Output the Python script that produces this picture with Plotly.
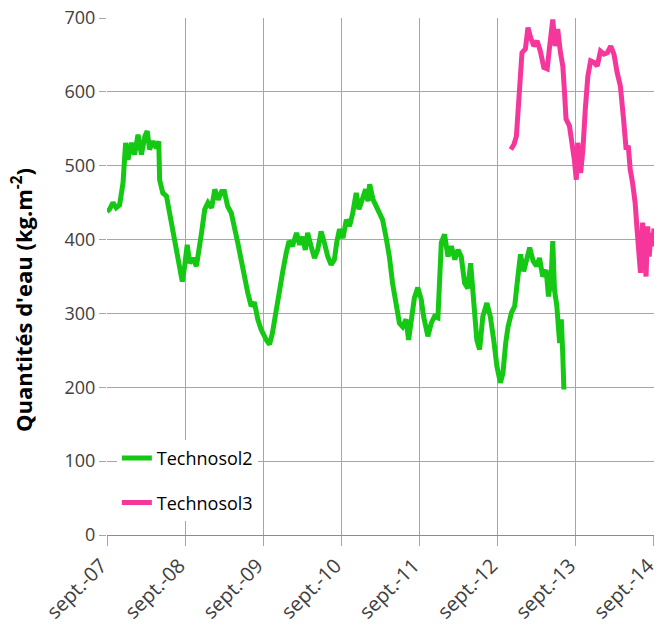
import plotly.graph_objects as go

# ---- data ----
t2_dates = [
    "2007-09-01", "2007-09-13", "2007-09-29", "2007-10-14", "2007-10-30", "2007-11-15", "2007-11-27",
    "2007-12-08", "2007-12-24", "2008-01-08", "2008-01-24", "2008-02-09", "2008-02-25", "2008-03-07",
    "2008-03-18", "2008-04-03", "2008-04-19", "2008-04-30", "2008-05-04", "2008-05-19", "2008-06-05",
    "2008-06-20", "2008-07-05", "2008-07-21", "2008-08-06", "2008-08-18", "2008-08-29", "2008-09-10",
    "2008-09-22", "2008-10-07", "2008-10-23", "2008-11-05", "2008-11-16", "2008-12-01", "2008-12-16",
    "2009-01-02", "2009-01-17", "2009-02-02", "2009-02-18", "2009-03-03", "2009-03-18", "2009-04-04",
    "2009-04-19", "2009-05-04", "2009-05-20", "2009-06-05", "2009-06-20", "2009-07-06", "2009-07-21",
    "2009-08-06", "2009-08-22", "2009-09-15", "2009-09-30", "2009-10-13", "2009-10-28", "2009-11-13",
    "2009-12-02", "2009-12-17", "2009-12-30", "2010-01-15", "2010-02-03", "2010-02-18", "2010-03-04",
    "2010-03-16", "2010-03-27", "2010-04-12", "2010-04-28", "2010-05-13", "2010-05-29", "2010-06-13",
    "2010-06-29", "2010-07-15", "2010-07-30", "2010-08-10", "2010-08-23", "2010-09-08", "2010-09-24",
    "2010-10-09", "2010-10-24", "2010-11-09", "2010-11-22", "2010-12-07", "2010-12-23", "2011-01-03",
    "2011-01-11", "2011-01-27", "2011-02-12", "2011-02-27", "2011-03-12", "2011-03-28", "2011-04-13",
    "2011-04-28", "2011-05-14", "2011-05-30", "2011-06-14", "2011-06-30", "2011-07-12", "2011-07-28",
    "2011-08-08", "2011-08-24", "2011-09-09", "2011-09-20", "2011-10-10", "2011-10-26", "2011-11-10",
    "2011-11-26", "2011-12-04", "2011-12-12", "2011-12-27", "2012-01-12", "2012-01-28", "2012-02-13",
    "2012-02-28", "2012-03-14", "2012-03-30", "2012-04-14", "2012-04-27", "2012-05-10", "2012-05-26",
    "2012-06-08", "2012-06-23", "2012-07-12", "2012-07-28", "2012-08-13", "2012-08-28", "2012-09-13",
    "2012-09-25", "2012-10-08", "2012-10-19", "2012-11-04", "2012-11-19", "2012-12-04", "2012-12-16",
    "2012-12-31", "2013-01-13", "2013-01-28", "2013-02-13", "2013-03-01", "2013-03-15", "2013-03-30",
    "2013-04-15", "2013-04-26", "2013-05-08", "2013-05-16", "2013-05-24", "2013-06-04", "2013-06-17",
    "2013-06-25", "2013-07-02", "2013-07-07",
]
t2_values = [
    438, 441, 450, 443, 447, 477, 531,
    508, 531, 515, 542, 515, 540, 547,
    522, 533, 524, 533, 481, 463, 459,
    436, 409, 386, 359, 343, 364, 393,
    368, 375, 364, 384, 409, 441, 450,
    443, 468, 454, 465, 465, 445, 436,
    418, 396, 373, 346, 328, 310, 315,
    292, 278, 264, 258, 273, 301, 332,
    359, 382, 398, 391, 409, 393, 404,
    386, 409, 391, 375, 386, 411, 396,
    377, 366, 373, 396, 414, 402, 427,
    418, 436, 463, 441, 454, 468, 452,
    475, 454, 445, 438, 427, 404, 377,
    341, 310, 287, 282, 292, 264, 292,
    321, 335, 319, 296, 269, 287, 296,
    294, 341, 396, 407, 377, 391, 373,
    386, 377, 341, 334, 368, 328, 264,
    251, 296, 314, 296, 264, 228, 206,
    219, 260, 282, 301, 310, 350, 380,
    357, 373, 389, 371, 364, 375, 350,
    359, 323, 346, 398, 332, 310, 260,
    292, 242, 197,
]

t3_dates = [
    "2012-11-01", "2012-11-16", "2012-11-27", "2012-12-04", "2012-12-12", "2012-12-23", "2013-01-08",
    "2013-01-20", "2013-02-02", "2013-02-17", "2013-03-04", "2013-03-19", "2013-04-04", "2013-04-20",
    "2013-04-30", "2013-05-16", "2013-05-27", "2013-06-08", "2013-06-21", "2013-07-02", "2013-07-10",
    "2013-07-17", "2013-08-02", "2013-08-13", "2013-08-25", "2013-09-03", "2013-09-10", "2013-09-23",
    "2013-10-04", "2013-10-15", "2013-10-27", "2013-11-09", "2013-11-24", "2013-12-10", "2013-12-25",
    "2014-01-10", "2014-01-26", "2014-02-11", "2014-02-26", "2014-03-13", "2014-03-28", "2014-04-12",
    "2014-04-24", "2014-05-04", "2014-05-13", "2014-05-24", "2014-06-05", "2014-06-14", "2014-06-22",
    "2014-06-30", "2014-07-10", "2014-07-18", "2014-07-26", "2014-08-03", "2014-08-10", "2014-08-18",
    "2014-08-26", "2014-09-01",
]
t3_values = [
    522, 529, 540, 567, 612, 653, 658,
    687, 673, 662, 669, 655, 633, 631,
    658, 698, 662, 685, 653, 635, 599,
    563, 554, 536, 508, 481, 531, 490,
    522, 576, 621, 642, 640, 635, 655,
    651, 653, 662, 651, 626, 608, 563,
    522, 527, 495, 477, 450, 414, 373,
    355, 423, 368, 350, 418, 377, 409,
    391, 415,
]

tick_dates = ["2007-09-01", "2008-09-01", "2009-09-01", "2010-09-01",
              "2011-09-01", "2012-09-01", "2013-09-01", "2014-09-01"]
tick_labels = ["sept.-07", "sept.-08", "sept.-09", "sept.-10",
               "sept.-11", "sept.-12", "sept.-13", "sept.-14"]

y_title = "<b>Quantités d'eau (kg.m<sup>-2</sup>)</b>"

FONT = "Open Sans"

fig = go.Figure()
fig.add_trace(go.Scatter(x=t2_dates, y=t2_values, mode="lines", name="Technosol2",
                         legendgroup="a",
                         line=dict(color="#14C814", width=5)))
fig.add_trace(go.Scatter(x=t3_dates, y=t3_values, mode="lines", name="Technosol3",
                         legendgroup="b",
                         line=dict(color="#F5379B", width=5)))

fig.add_annotation(text=y_title, xref="paper", yref="paper",
                   x=-0.155, y=0.455, xanchor="center", yanchor="middle",
                   textangle=-90, showarrow=False,
                   font=dict(family=FONT, size=22, color="#000000"))

fig.update_layout(
    width=659, height=626,
    margin=dict(l=107, r=5, t=18, b=91),
    paper_bgcolor="white", plot_bgcolor="white",
    font=dict(family=FONT, size=18, color="#404040"),
    showlegend=True,
    legend=dict(x=0.018, y=0.184, xanchor="left", yanchor="top",
                bgcolor="white", borderwidth=0,
                font=dict(family=FONT, size=18, color="#000000"),
                tracegroupgap=18, traceorder="grouped"),
    xaxis=dict(type="date", range=["2007-09-01", "2014-09-01 06:00"],
               tickmode="array", tickvals=tick_dates, ticktext=tick_labels,
               tickangle=-45, showgrid=True, gridcolor="#A6A6A6", gridwidth=1,
               showline=True, linecolor="#8C8C8C", linewidth=1,
               ticks="outside", ticklen=10, tickcolor="#A6A6A6",
               zeroline=False, automargin=False, ticklabeloverflow="allow",
               ticklabelshift=-6,
               tickfont=dict(size=20, color="#404040")),
    yaxis=dict(range=[0, 700], dtick=100, showgrid=True, gridcolor="#A6A6A6",
               gridwidth=1, ticks="outside", ticklen=7, tickcolor="#A6A6A6",
               showline=False, zeroline=False, automargin=False,
               tickfont=dict(size=18, color="#404040")),
)

fig.write_html("out.html", config={"displayModeBar": False},
               post_script="document.body.style.margin='0';document.body.style.overflow='hidden';")
